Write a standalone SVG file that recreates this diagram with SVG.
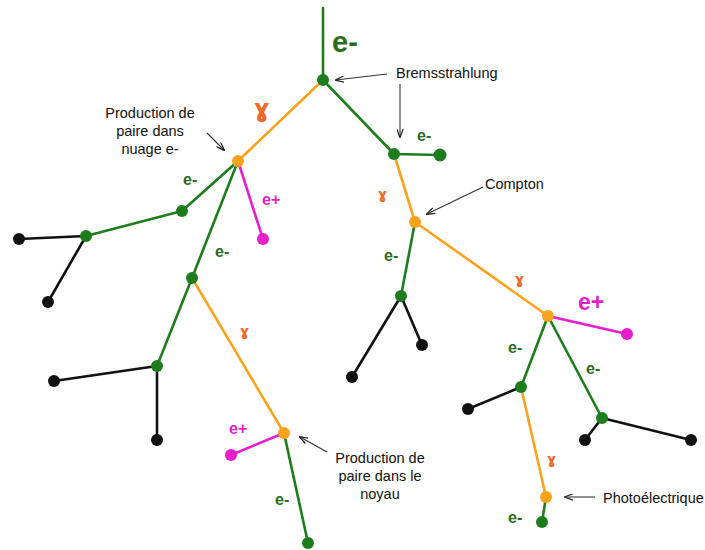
<svg xmlns="http://www.w3.org/2000/svg" width="705" height="550" viewBox="0 0 705 550">
<defs>
<marker id="arr" viewBox="0 0 10 8" refX="9" refY="4" markerWidth="9" markerHeight="7" markerUnits="userSpaceOnUse" orient="auto">
<path d="M0,0.5 L10,4 L0,7.5" fill="none" stroke="#222" stroke-width="1.4"/>
</marker>
<style>
.g{stroke:#1d7d1d;stroke-width:2.6;fill:none;stroke-linecap:round}
.o{stroke:#f9a21c;stroke-width:2.6;fill:none;stroke-linecap:round}
.m{stroke:#e61ecb;stroke-width:2.6;fill:none;stroke-linecap:round}
.k{stroke:#111;stroke-width:2.6;fill:none;stroke-linecap:round}
.a{stroke:#333;stroke-width:1.1;fill:none;marker-end:url(#arr)}
.ng{fill:#1d7d1d}
.no{fill:#f9a21c}
.nm{fill:#e61ecb}
.nk{fill:#111}
.lg{font-family:"Liberation Sans",Arial,sans-serif;font-weight:bold;font-size:16px;fill:#2d6b1d}
.lm{font-family:"Liberation Sans",Arial,sans-serif;font-weight:bold;font-size:16px;fill:#e61ecb}
.lo{font-family:"DejaVu Sans","Liberation Sans",sans-serif;font-weight:bold;font-size:14px;fill:#f26a2a}
.t{font-family:"Liberation Sans",Arial,sans-serif;font-size:14.5px;fill:#111}
</style>
</defs>
<g id="connectors">
<line class="g" x1="323" y1="8" x2="323" y2="80"/>
<line class="o" x1="323" y1="80" x2="238" y2="161"/>
<line class="g" x1="323" y1="80" x2="394" y2="154"/>
<line class="g" x1="394" y1="154" x2="440" y2="155"/>
<line class="g" x1="238" y1="161" x2="182" y2="211"/>
<line class="g" x1="182" y1="211" x2="86" y2="236"/>
<line class="k" x1="86" y1="236" x2="19" y2="239"/>
<line class="k" x1="86" y1="236" x2="48" y2="302"/>
<line class="m" x1="238" y1="161" x2="263" y2="239"/>
<line class="g" x1="238" y1="161" x2="192" y2="278"/>
<line class="g" x1="192" y1="278" x2="157" y2="366"/>
<line class="k" x1="157" y1="366" x2="54" y2="381"/>
<line class="k" x1="157" y1="366" x2="157" y2="440"/>
<line class="o" x1="192" y1="278" x2="284" y2="433"/>
<line class="m" x1="284" y1="433" x2="231" y2="455"/>
<line class="g" x1="284" y1="433" x2="308" y2="543"/>
<line class="o" x1="394" y1="154" x2="415" y2="222"/>
<line class="g" x1="415" y1="222" x2="401" y2="296"/>
<line class="k" x1="401" y1="296" x2="352" y2="377"/>
<line class="k" x1="401" y1="296" x2="422" y2="345"/>
<line class="o" x1="415" y1="222" x2="548" y2="316"/>
<line class="m" x1="548" y1="316" x2="627" y2="334"/>
<line class="g" x1="548" y1="316" x2="521" y2="387"/>
<line class="g" x1="548" y1="316" x2="602" y2="418"/>
<line class="k" x1="521" y1="387" x2="468" y2="409"/>
<line class="k" x1="602" y1="418" x2="585" y2="440"/>
<line class="k" x1="602" y1="418" x2="691" y2="440"/>
<line class="o" x1="521" y1="387" x2="546" y2="497"/>
<line class="g" x1="546" y1="497" x2="542" y2="522"/>
<line class="a" x1="387" y1="74" x2="336" y2="80"/>
<line class="a" x1="400" y1="84" x2="400" y2="137"/>
<line class="a" x1="207" y1="133" x2="224" y2="150"/>
<line class="a" x1="483" y1="187" x2="427" y2="214"/>
<line class="a" x1="327" y1="452" x2="300" y2="437"/>
<line class="a" x1="595" y1="497" x2="565" y2="497"/>
</g>
<g id="n-brems"><circle class="ng" cx="323" cy="80" r="6"/></g>
<g id="n-brems2"><circle class="ng" cx="394" cy="154" r="6"/></g>
<g id="n-e1"><circle class="ng" cx="440" cy="155" r="6.5"/></g>
<g id="n-pair1"><circle class="no" cx="238" cy="161" r="6"/></g>
<g id="n-g1"><circle class="ng" cx="182" cy="211" r="6"/></g>
<g id="n-g2"><circle class="ng" cx="86" cy="236" r="6"/></g>
<g id="n-k1"><circle class="nk" cx="19" cy="239" r="6"/></g>
<g id="n-k2"><circle class="nk" cx="48" cy="302" r="6"/></g>
<g id="n-m1"><circle class="nm" cx="263" cy="239" r="6"/></g>
<g id="n-g3"><circle class="ng" cx="192" cy="278" r="6"/></g>
<g id="n-g4"><circle class="ng" cx="157" cy="366" r="6"/></g>
<g id="n-k3"><circle class="nk" cx="54" cy="381" r="6"/></g>
<g id="n-k4"><circle class="nk" cx="157" cy="440" r="6"/></g>
<g id="n-pair2"><circle class="no" cx="284" cy="433" r="6"/></g>
<g id="n-m2"><circle class="nm" cx="231" cy="455" r="6"/></g>
<g id="n-g5"><circle class="ng" cx="308" cy="543" r="6"/></g>
<g id="n-compton"><circle class="no" cx="415" cy="222" r="6"/></g>
<g id="n-g6"><circle class="ng" cx="401" cy="296" r="6"/></g>
<g id="n-k5"><circle class="nk" cx="352" cy="377" r="6"/></g>
<g id="n-k6"><circle class="nk" cx="422" cy="345" r="6"/></g>
<g id="n-pair3"><circle class="no" cx="548" cy="316" r="6"/></g>
<g id="n-m3"><circle class="nm" cx="627" cy="334" r="6"/></g>
<g id="n-g7"><circle class="ng" cx="521" cy="387" r="6"/></g>
<g id="n-g8"><circle class="ng" cx="602" cy="418" r="6"/></g>
<g id="n-k7"><circle class="nk" cx="468" cy="409" r="6"/></g>
<g id="n-k8"><circle class="nk" cx="585" cy="440" r="6"/></g>
<g id="n-k9"><circle class="nk" cx="691" cy="440" r="6"/></g>
<g id="n-photo"><circle class="no" cx="546" cy="497" r="6"/></g>
<g id="n-g9"><circle class="ng" cx="542" cy="522" r="6"/></g>
<g id="labels">
<text class="lg" x="332" y="52" style="font-size:29px">e-</text>
<text class="lo" x="254" y="117" style="font-size:24px">ɣ</text>
<text class="lg" x="417" y="141">e-</text>
<text class="lg" x="183" y="185">e-</text>
<text class="lm" x="262" y="205">e+</text>
<text class="lg" x="215" y="257">e-</text>
<text class="lo" x="240" y="336">ɣ</text>
<text class="lm" x="229" y="434">e+</text>
<text class="lg" x="275" y="505">e-</text>
<text class="lo" x="378" y="199">ɣ</text>
<text class="lg" x="384" y="261">e-</text>
<text class="lo" x="515" y="284">ɣ</text>
<text class="lm" x="578" y="310" style="font-size:23px">e+</text>
<text class="lg" x="508" y="353">e-</text>
<text class="lg" x="586" y="374">e-</text>
<text class="lo" x="547" y="464">ɣ</text>
<text class="lg" x="508" y="523">e-</text>
<text class="t" x="396" y="78">Bremsstrahlung</text>
<text class="t" x="150" y="118" text-anchor="middle">Production de</text>
<text class="t" x="150" y="136" text-anchor="middle">paire dans</text>
<text class="t" x="150" y="154" text-anchor="middle">nuage e-</text>
<text class="t" x="485" y="189">Compton</text>
<text class="t" x="380" y="463" text-anchor="middle">Production de</text>
<text class="t" x="380" y="481" text-anchor="middle">paire dans le</text>
<text class="t" x="380" y="499" text-anchor="middle">noyau</text>
<text class="t" x="603" y="503">Photoélectrique</text>
</g>
</svg>
